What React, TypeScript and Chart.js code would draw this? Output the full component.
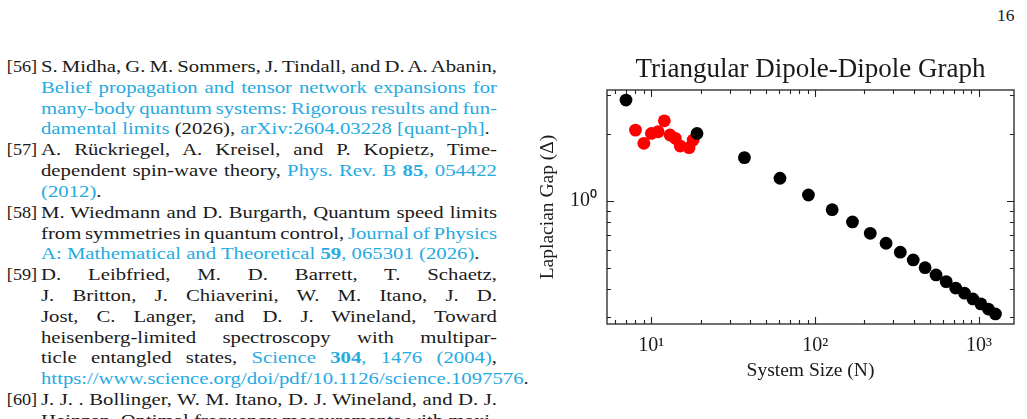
import React, { useEffect, useRef } from "react";
import { Chart, registerables } from "chart.js";

Chart.register(...registerables);

// ---- chart data ----
const blackN = [7, 19, 37, 61, 91, 127, 169, 217, 271, 331, 397, 469, 547, 631, 721, 817, 919, 1027, 1141, 1261];
const blackGap = [2.84, 2.01, 1.563, 1.262, 1.061, 0.911, 0.802, 0.713, 0.643, 0.586, 0.541, 0.499, 0.463, 0.432, 0.404, 0.383, 0.361, 0.343, 0.325, 0.309];
const redN = [8, 9, 10, 11, 12, 13, 14, 15, 17, 18];
const redGap = [2.08, 1.814, 2.01, 2.045, 2.29, 1.977, 1.91, 1.764, 1.733, 1.876];

const xMajorTicks = [10, 100, 1000];
const xMinorTicks = [6, 7, 8, 9, 20, 30, 40, 50, 60, 70, 80, 90, 200, 300, 400, 500, 600, 700, 800, 900];
const yMajorTicks = [1];
const yMinorTicks = [0.3, 0.4, 0.5, 0.6, 0.7, 0.8, 0.9, 2, 3];
const xTickLabels: Record<number, string> = { 10: "10¹", 100: "10²", 1000: "10³" };
const yTickLabels: Record<number, string> = { 1: "10⁰" };

const titleText = "Triangular Dipole-Dipole Graph";
const xTitle = "System Size (N)";
const yTitle = "Laplacian Gap (Δ)";

const SERIF = "'Liberation Serif', 'Times New Roman', serif";
const BLUE = "#26aae2";
const INK = "#1a1a1a";
const TEXT_STRETCH = 1.22;

// ---- reference list text ----
type Seg = { t: string; blue?: boolean; bold?: boolean };
type Line = { segs: Seg[]; last?: boolean };
type Ref = { label: string; lines: Line[] };

const refs: Ref[] = [
  {
    label: "[56]",
    lines: [
      { segs: [{ t: "S. Midha, G. M. Sommers, J. Tindall, and D. A. Abanin," }] },
      { segs: [{ t: "Belief propagation and tensor network expansions for", blue: true }] },
      { segs: [{ t: "many-body quantum systems: Rigorous results and fun-", blue: true }] },
      {
        last: true,
        segs: [
          { t: "damental limits", blue: true },
          { t: " (2026), " },
          { t: "arXiv:2604.03228 [quant-ph]", blue: true },
          { t: "." },
        ],
      },
    ],
  },
  {
    label: "[57]",
    lines: [
      { segs: [{ t: "A. Rückriegel, A. Kreisel, and P. Kopietz, Time-" }] },
      {
        segs: [
          { t: "dependent spin-wave theory, " },
          { t: "Phys. Rev. B ", blue: true },
          { t: "85", blue: true, bold: true },
          { t: ", 054422", blue: true },
        ],
      },
      { last: true, segs: [{ t: "(2012)", blue: true }, { t: "." }] },
    ],
  },
  {
    label: "[58]",
    lines: [
      { segs: [{ t: "M. Wiedmann and D. Burgarth, Quantum speed limits" }] },
      { segs: [{ t: "from symmetries in quantum control, " }, { t: "Journal of Physics", blue: true }] },
      {
        last: true,
        segs: [
          { t: "A: Mathematical and Theoretical ", blue: true },
          { t: "59", blue: true, bold: true },
          { t: ", 065301 (2026)", blue: true },
          { t: "." },
        ],
      },
    ],
  },
  {
    label: "[59]",
    lines: [
      { segs: [{ t: "D. Leibfried, M. D. Barrett, T. Schaetz," }] },
      { segs: [{ t: "J. Britton, J. Chiaverini, W. M. Itano, J. D." }] },
      { segs: [{ t: "Jost, C. Langer, and D. J. Wineland, Toward" }] },
      { segs: [{ t: "heisenberg-limited spectroscopy with multipar-" }] },
      {
        segs: [
          { t: "ticle entangled states, " },
          { t: "Science ", blue: true },
          { t: "304", blue: true, bold: true },
          { t: ", 1476 (2004)", blue: true },
          { t: "," },
        ],
      },
      { last: true, segs: [{ t: "https://www.science.org/doi/pdf/10.1126/science.1097576", blue: true }, { t: "." }] },
    ],
  },
  {
    label: "[60]",
    lines: [
      { segs: [{ t: "J. J. . Bollinger, W. M. Itano, D. J. Wineland, and D. J." }] },
      { segs: [{ t: "Heinzen, Optimal frequency measurements with maxi-" }] },
    ],
  },
];

const frameTicks = {
  id: "frameTicks",
  afterDatasetsDraw(chart: any) {
    const { ctx, chartArea: a, scales } = chart;
    const xs = scales.x;
    const ys = scales.y;
    ctx.save();
    ctx.strokeStyle = "#222";
    ctx.lineWidth = 1.1;
    const xt = (v: number, len: number) => {
      const p = Math.round(xs.getPixelForValue(v)) + 0.5;
      if (p < a.left || p > a.right) return;
      ctx.beginPath();
      ctx.moveTo(p, a.bottom);
      ctx.lineTo(p, a.bottom - len);
      ctx.moveTo(p, a.top);
      ctx.lineTo(p, a.top + len);
      ctx.stroke();
    };
    const yt = (v: number, len: number) => {
      const p = Math.round(ys.getPixelForValue(v)) + 0.5;
      if (p < a.top || p > a.bottom) return;
      ctx.beginPath();
      ctx.moveTo(a.left, p);
      ctx.lineTo(a.left + len, p);
      ctx.moveTo(a.right, p);
      ctx.lineTo(a.right - len, p);
      ctx.stroke();
    };
    xMajorTicks.forEach((v) => xt(v, 7));
    xMinorTicks.forEach((v) => xt(v, 4));
    yMajorTicks.forEach((v) => yt(v, 7));
    yMinorTicks.forEach((v) => yt(v, 4));
    ctx.lineWidth = 1.3;
    ctx.strokeRect(a.left, a.top, a.right - a.left, a.bottom - a.top);
    ctx.restore();
  },
};

function ChartPanel() {
  const ref = useRef<HTMLCanvasElement>(null);
  useEffect(() => {
    if (!ref.current) return;
    const chart = new Chart(ref.current, {
      type: "scatter",
      data: {
        datasets: [
          {
            label: "hexagonal",
            data: blackN.map((n, i) => ({ x: n, y: blackGap[i] })),
            backgroundColor: "#000000",
            borderWidth: 0,
            pointRadius: 6.4,
          },
          {
            label: "other",
            data: redN.map((n, i) => ({ x: n, y: redGap[i] })),
            backgroundColor: "#ff0000",
            borderWidth: 0,
            pointRadius: 6.4,
          },
        ],
      },
      options: {
        responsive: false,
        animation: false,
        devicePixelRatio: 1,
        layout: { padding: { left: 0, right: 13, top: 0, bottom: 0 } },
        plugins: {
          legend: { display: false },
          tooltip: { enabled: false },
          title: {
            display: true,
            text: titleText,
            fullSize: false,
            color: INK,
            font: { family: SERIF, size: 27, weight: "normal", lineHeight: 1.2 },
            padding: { top: 14, bottom: 3.6 },
          },
        },
        scales: {
          x: {
            type: "logarithmic",
            min: 5.36,
            max: 1637,
            grid: { display: false, drawTicks: false },
            border: { display: false },
            afterBuildTicks: (s: any) => {
              s.ticks = xMajorTicks.map((v) => ({ value: v }));
            },
            afterFit: (s: any) => {
              s.height = 76;
            },
            ticks: {
              autoSkip: false,
              maxRotation: 0,
              padding: 10,
              color: INK,
              font: { family: SERIF, size: 20 },
              callback: (v: any) => xTickLabels[Number(v)] ?? "",
            },
            title: {
              display: true,
              text: xTitle,
              color: INK,
              font: { family: SERIF, size: 19.5, lineHeight: 1.2 },
              padding: { top: 0, bottom: 17 },
            },
          },
          y: {
            type: "logarithmic",
            min: 0.2783,
            max: 3.153,
            grid: { display: false, drawTicks: false },
            border: { display: false },
            afterBuildTicks: (s: any) => {
              s.ticks = yMajorTicks.map((v) => ({ value: v }));
            },
            afterFit: (s: any) => {
              s.width = 77;
            },
            ticks: {
              autoSkip: false,
              padding: 10,
              color: INK,
              font: { family: SERIF, size: 20 },
              callback: (v: any) => yTickLabels[Number(v)] ?? "",
            },
            title: {
              display: true,
              text: yTitle,
              color: INK,
              font: { family: SERIF, size: 19.5, lineHeight: 1.2 },
              padding: { top: 6, bottom: 0 },
            },
          },
        },
      },
      plugins: [frameTicks],
    } as any);
    return () => chart.destroy();
  }, []);
  return (
    <canvas
      ref={ref}
      width={497}
      height={360}
      style={{ position: "absolute", left: 530, top: 40, width: 497, height: 360 }}
    />
  );
}

function References() {
  return (
    <div
      style={{
        position: "absolute",
        left: 41,
        top: 57,
        width: 456 / TEXT_STRETCH,
        transform: `scaleX(${TEXT_STRETCH})`,
        transformOrigin: "left top",
        fontFamily: SERIF,
        fontSize: 17,
        lineHeight: "20.82px",
        color: INK,
      }}
    >
      {refs.map((r) => (
        <div key={r.label} style={{ position: "relative" }}>
          <span
            style={{
              position: "absolute",
              left: -34 / TEXT_STRETCH,
              top: 0,
              display: "inline-block",
              transform: `scaleX(${1.07 / TEXT_STRETCH})`,
              transformOrigin: "left top",
            }}
          >
            {r.label}
          </span>
          {r.lines.map((ln, i) => (
            <div
              key={i}
              style={
                ln.last
                  ? { whiteSpace: "nowrap", textAlign: "left" }
                  : {
                      whiteSpace: "nowrap",
                      textAlign: "justify",
                      textAlignLast: "justify" as any,
                      wordSpacing: "-1.6px",
                    }
              }
            >
              {ln.segs.map((s, j) => (
                <span key={j} style={{ color: s.blue ? BLUE : INK, fontWeight: s.bold ? "bold" : "normal" }}>
                  {s.t}
                </span>
              ))}
            </div>
          ))}
        </div>
      ))}
    </div>
  );
}

export default function App() {
  return (
    <div style={{ position: "relative", width: 1011, height: 403, overflow: "hidden" }}>
      <div style={{ position: "fixed", inset: 0, overflow: "hidden", background: "#fff" }}>
        <div
          style={{
            position: "absolute",
            left: 997,
            top: 5,
            fontFamily: SERIF,
            fontSize: 17.5,
            color: INK,
          }}
        >
          16
        </div>
        <References />
        <ChartPanel />
      </div>
    </div>
  );
}
